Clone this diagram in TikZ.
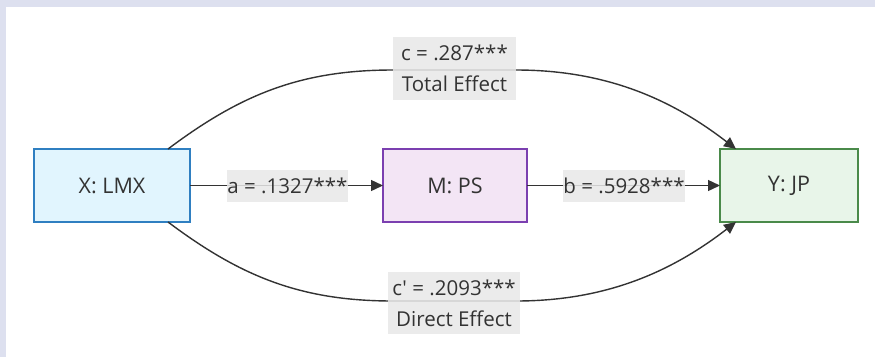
\documentclass[tikz,border=0pt]{standalone}
\usepackage{fontspec}
\setmainfont{Open Sans}
\newfontfamily\plainfont{Open Sans}[Ligatures=Common]
\usetikzlibrary{arrows.meta}
\definecolor{framec}{HTML}{DDE0EF}
\definecolor{ink}{HTML}{333333}
\definecolor{labgray}{HTML}{E8E8E8}
\definecolor{xfill}{HTML}{E1F5FE}
\definecolor{xdraw}{HTML}{2F7FC1}
\definecolor{mfill}{HTML}{F3E5F5}
\definecolor{mdraw}{HTML}{7B3FB0}
\definecolor{yfill}{HTML}{E8F5E9}
\definecolor{ydraw}{HTML}{4A8A4A}
\tikzset{
  box/.style={draw, line width=1.5pt, inner sep=0pt, outer sep=0pt, minimum height=73pt, text=ink,
    font=\fontsize{21.5}{26}\selectfont},
  edge/.style={draw=ink, line width=1.4pt, -{Triangle[length=12pt,width=11pt]}},
  lab/.style={fill=labgray, fill opacity=0.85, text opacity=1, text=ink, inner sep=0pt,
    align=center, font=\plainfont\fontsize{20.5}{31}\selectfont}
}
\begin{document}
\begin{tikzpicture}[x=1pt,y=-1pt]
\fill[framec] (0,0) rectangle (875,357);
\fill[white] (6,7) rectangle (875,357);
\useasboundingbox (0,0) rectangle (875,357);

\node[box, fill=xfill, draw=xdraw, minimum width=156pt] (X) at (112,185.5) {X: LMX};
\node[box, fill=mfill, draw=mdraw, minimum width=144pt] (M) at (455,185.5) {M: PS};
\node[box, fill=yfill, draw=ydraw, minimum width=138pt] (Y) at (789,185.5) {Y: JP};

\draw[edge] ([xshift=56pt]X.north) .. controls (240,95) and (300,70) .. (393,70) -- (516,70)
  .. controls (610,70) and (675,102) .. ([xshift=-53pt]Y.north);
\draw[edge] ([xshift=56pt]X.south) .. controls (240,276) and (300,301) .. (393,301) -- (516,301)
  .. controls (610,301) and (675,269) .. ([xshift=-53pt]Y.south);
\draw[edge] (X.east) -- (M.west);
\draw[edge] (M.east) -- (Y.west);

\node[lab, minimum width=121pt, minimum height=32pt] (la) at (287.5,186) {a = .1327***};
\node[lab, minimum width=122pt, minimum height=32pt] (lb) at (624,186) {b = .5928***};
\node[lab, minimum width=123pt, minimum height=63pt] (lc) at (454.5,68.5) {c = .287***\\Total Effect};
\node[lab, minimum width=132pt, minimum height=62pt] (ld) at (454,303) {c' = .2093***\\Direct Effect};
\end{tikzpicture}
\end{document}
